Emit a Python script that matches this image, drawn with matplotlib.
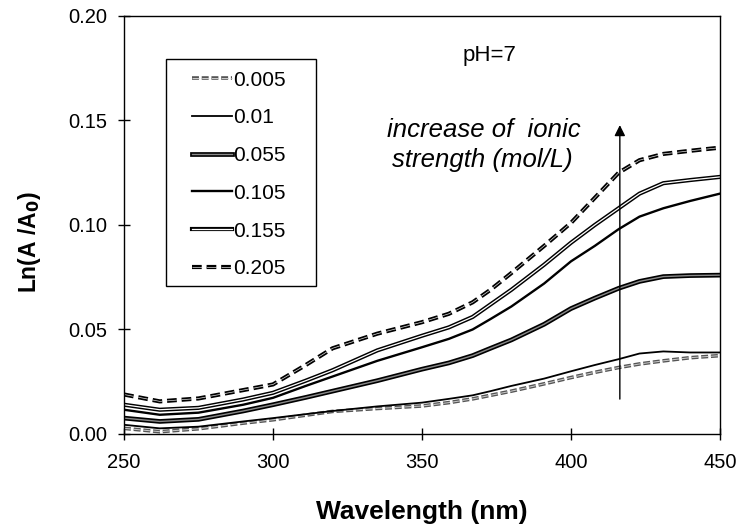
import matplotlib
matplotlib.use("Agg")
import matplotlib.pyplot as plt
import matplotlib.patheffects as pe
from matplotlib.patches import Rectangle

plt.rcParams['font.family'] = ['Liberation Sans', 'DejaVu Sans']

# wavelength grid (nm) at which the curves were read
wl = [250, 262, 275, 290, 300, 311, 320, 335, 350, 359, 367, 373, 380, 391, 400, 408, 416, 423, 431, 440, 450]

s0205 = [0.0189, 0.0156, 0.0170, 0.0210, 0.0237, 0.0330, 0.0410, 0.0480, 0.0535, 0.0575, 0.0630, 0.0690, 0.0770, 0.0900, 0.1010, 0.1130, 0.1250, 0.1310, 0.1340, 0.1355, 0.1370]
s0155 = [0.0140, 0.0116, 0.0125, 0.0165, 0.0197, 0.0255, 0.0305, 0.0400, 0.0470, 0.0510, 0.0560, 0.0620, 0.0690, 0.0810, 0.0915, 0.1000, 0.1080, 0.1150, 0.1200, 0.1215, 0.1230]
s0105 = [0.0116, 0.0092, 0.0102, 0.0140, 0.0173, 0.0230, 0.0275, 0.0350, 0.0415, 0.0455, 0.0500, 0.0550, 0.0610, 0.0720, 0.0826, 0.0900, 0.0980, 0.1040, 0.1080, 0.1115, 0.1150]
s0055 = [0.0076, 0.0060, 0.0070, 0.0110, 0.0140, 0.0175, 0.0205, 0.0255, 0.0310, 0.0340, 0.0375, 0.0410, 0.0450, 0.0525, 0.0600, 0.0650, 0.0697, 0.0730, 0.0753, 0.0758, 0.0760]
s001 = [0.0044, 0.0027, 0.0035, 0.0060, 0.0076, 0.0095, 0.0110, 0.0132, 0.0150, 0.0168, 0.0185, 0.0205, 0.0230, 0.0265, 0.0300, 0.0330, 0.0358, 0.0385, 0.0395, 0.0390, 0.0390]
s0005 = [0.0027, 0.0011, 0.0025, 0.0052, 0.0068, 0.0090, 0.0108, 0.0122, 0.0134, 0.0150, 0.0168, 0.0185, 0.0205, 0.0240, 0.0270, 0.0295, 0.0318, 0.0335, 0.0350, 0.0365, 0.0375]

labels = ["0.005", "0.01", "0.055", "0.105", "0.155", "0.205"]

fig = plt.figure(figsize=(7.42, 5.31), dpi=100)
ax = fig.add_axes([0.1671, 0.1827, 0.8032, 0.7872])

# 0.005 : grey outlined dashes
ax.plot(wl, s0005, color="#cccccc", lw=0.7, ls=(0, (5 / 0.7, 2 / 0.7)),
        path_effects=[pe.Stroke(linewidth=2.6, foreground="#555555"), pe.Normal()],
        label=labels[0])
# 0.01 : thin solid
ax.plot(wl, s001, color="black", lw=1.3, label=labels[1])
# 0.055 : thick double with grey core
ax.plot(wl, s0055, color="#8a8a8a", lw=1.0,
        path_effects=[pe.Stroke(linewidth=3.4, foreground="black"), pe.Normal()],
        label=labels[2])
# 0.105 : medium solid
ax.plot(wl, s0105, color="black", lw=1.7, label=labels[3])
# 0.155 : double line with white core
ax.plot(wl, s0155, color="white", lw=0.9,
        path_effects=[pe.Stroke(linewidth=3.0, foreground="black"), pe.Normal()],
        label=labels[4])
# 0.205 : thick double dashes
ax.plot(wl, s0205, color="#e0e0e0", lw=0.5, ls=(0, (7 / 0.5, 3.5 / 0.5)),
        path_effects=[pe.Stroke(linewidth=3.0, foreground="black"), pe.Normal()],
        label=labels[5])

ax.set_xlim(250, 450)
ax.set_ylim(0, 0.20)
ax.set_xticks([250, 300, 350, 400, 450])
ax.set_yticks([0.0, 0.05, 0.10, 0.15, 0.20])
ax.set_yticklabels(["0.00", "0.05", "0.10", "0.15", "0.20"])
ax.tick_params(direction="inout", length=8, width=1, labelsize=14.5)
ax.tick_params(axis="y", pad=8)
ax.tick_params(axis="x", pad=10)
for sp in ax.spines.values():
    sp.set_linewidth(1.0)

ax.set_xlabel("Wavelength (nm)", fontsize=19, fontweight="bold")
ax.xaxis.set_label_coords(0.5, -0.158)
ax.set_ylabel("Ln(A /A$_\\mathbf{0}$)", fontsize=16.5, fontweight="bold")
ax.yaxis.set_label_coords(-0.136, 0.46)

# legend box drawn separately so its padding can match the original
ax.add_patch(Rectangle((0.0705, 0.354), 0.2517, 0.543, transform=ax.transAxes,
                       fill=False, edgecolor="black", lw=1.0, zorder=5))
leg = ax.legend(loc="center left", bbox_to_anchor=(0.114, 0.621), fontsize=15,
                frameon=False, handlelength=1.9, handletextpad=0.1,
                labelspacing=0.9, borderpad=0, borderaxespad=0)

ax.text(372.8, 0.1785, "pH=7", fontsize=16, ha="center", va="baseline")
ax.text(370.6, 0.1421, "increase of  ionic", fontsize=18.5, style="italic", ha="center", va="baseline")
ax.text(370.3, 0.1278, "strength (mol/L)", fontsize=18.5, style="italic", ha="center", va="baseline")
ax.annotate("", xy=(416.4, 0.1478), xytext=(416.4, 0.0167),
            arrowprops=dict(arrowstyle="-|>", color="black", lw=1.0,
                            mutation_scale=16, shrinkA=0, shrinkB=0))

fig.savefig("out.png", dpi=100)
